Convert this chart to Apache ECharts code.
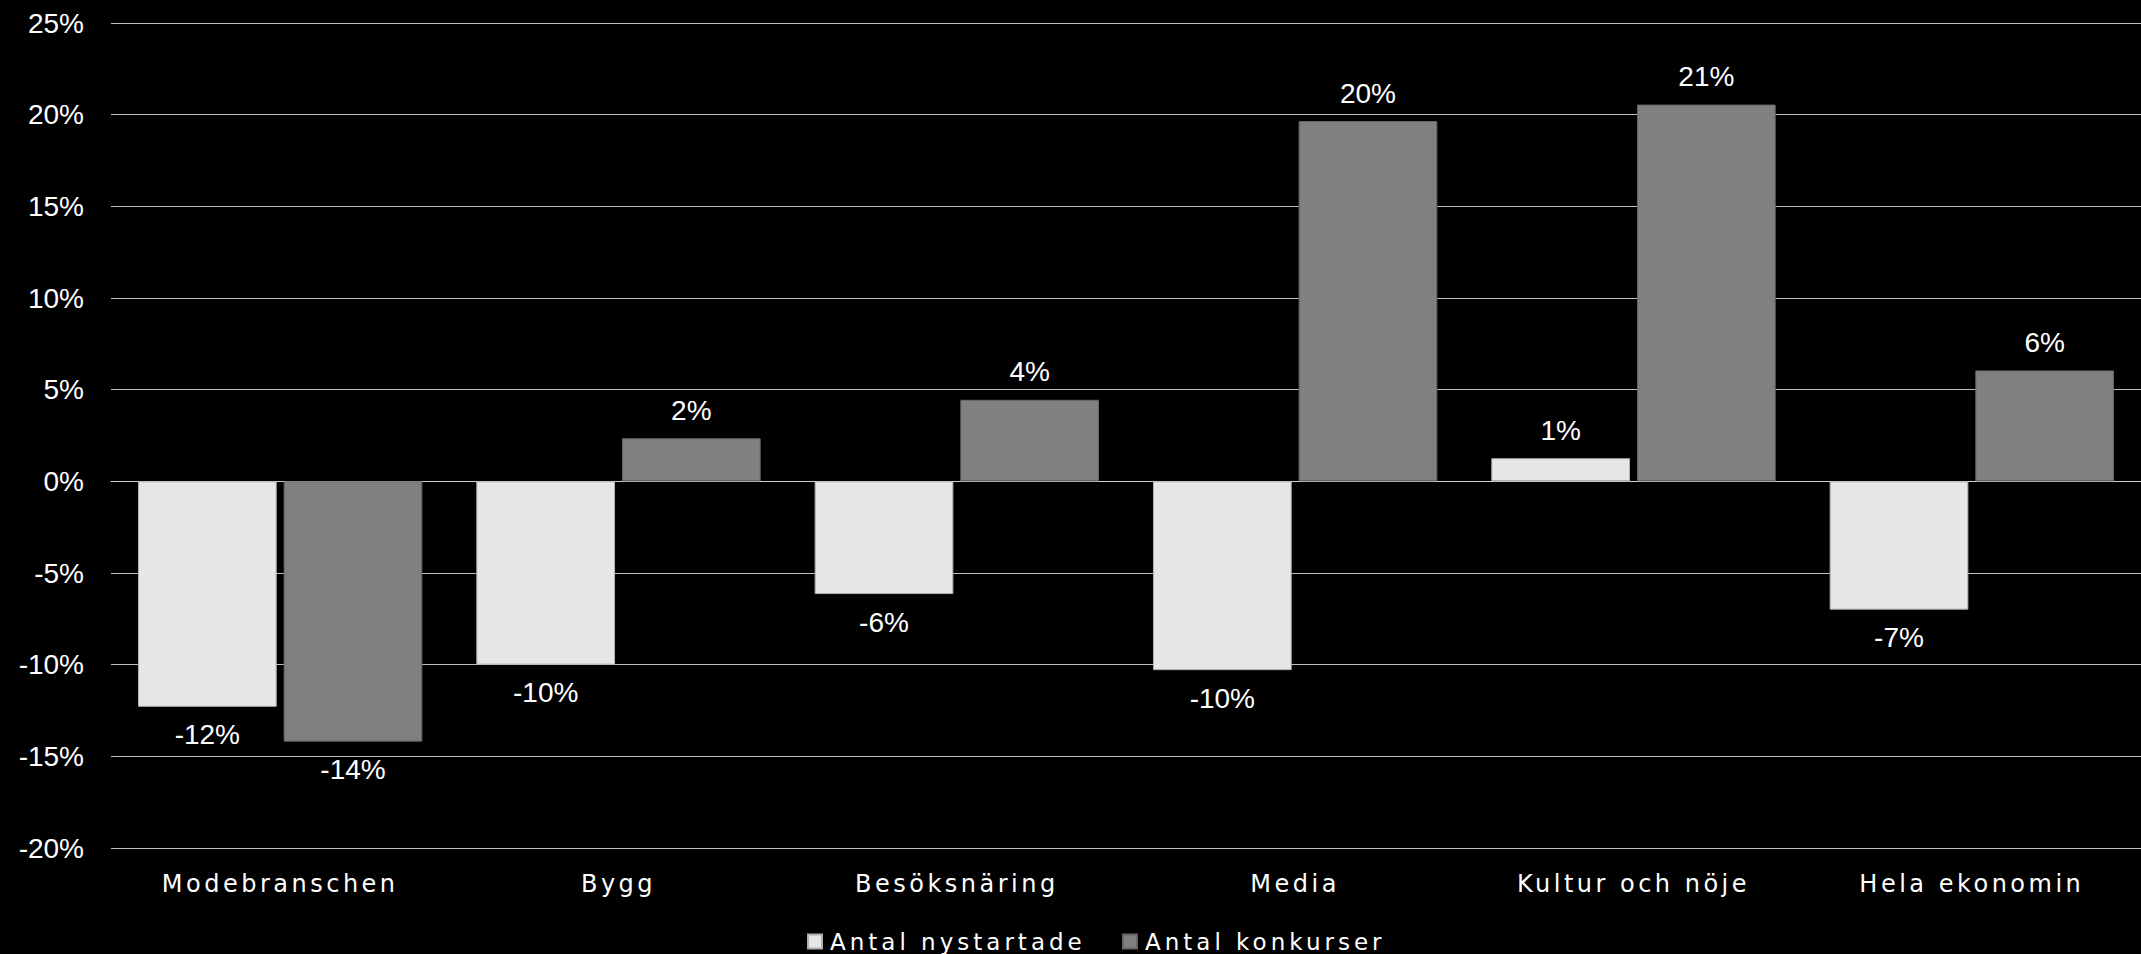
<!DOCTYPE html>
<html>
<head>
<meta charset="utf-8">
<script src="https://cdn.jsdelivr.net/npm/echarts@6/dist/echarts.min.js"></script>
<style>
  html, body { margin: 0; padding: 0; background: #000; }
  #chart { width: 2141px; height: 954px; }
  #chart svg text[style*="DejaVu"], #chart svg text[font-family*="DejaVu"] { letter-spacing: 4px; }
  #chart svg text[style*="DejaVu"][style*="24px"] { letter-spacing: 3.5px; }
</style>
</head>
<body>
<div id="chart"></div>
<script>
const categories = ['Modebranschen', 'Bygg', 'Besöksnäring', 'Media', 'Kultur och nöje', 'Hela ekonomin'];
const nystartade = [-12.3, -10.0, -6.15, -10.3, 1.26, -7.0];
const konkurser = [-14.2, 2.35, 4.45, 19.65, 20.55, 6.05];
const seriesNames = ['Antal nystartade', 'Antal konkurser'];
const yMin = -20, yMax = 25, yStep = 5;

const chart = echarts.init(document.getElementById('chart'), null, { renderer: 'svg' });

const wideFont = 'DejaVu Sans';
const plainFont = 'Liberation Sans';

function labelCfg() {
  return {
    show: true,
    position: 'outside',
    distance: 14,
    color: '#ffffff',
    fontSize: 28,
    fontFamily: plainFont,
    formatter: p => Math.round(p.value) + '%'
  };
}

function legendCfg(name, left) {
  return {
    data: [name],
    left: left,
    top: 930,
    padding: 0,
    icon: 'rect',
    itemWidth: 14,
    itemHeight: 14,
    selectedMode: false,
    textStyle: { color: '#ffffff', fontSize: 23, fontFamily: wideFont, padding: [0, 0, 0, 3] }
  };
}

chart.setOption({
  backgroundColor: '#000000',
  animation: false,
  grid: { left: 111, right: 0, top: 23, bottom: 106, containLabel: false },
  legend: [legendCfg(seriesNames[0], 807), legendCfg(seriesNames[1], 1122)],
  xAxis: {
    type: 'category',
    data: categories,
    axisLine: { show: true, lineStyle: { color: '#cfcfcf', width: 1 } },
    axisTick: { show: false },
    axisLabel: { color: '#ffffff', fontSize: 24, fontFamily: wideFont, margin: 24, interval: 0 }
  },
  yAxis: {
    type: 'value',
    min: yMin,
    max: yMax,
    interval: yStep,
    axisLine: { show: false },
    axisTick: { show: false },
    splitLine: { show: true, lineStyle: { color: '#bfbfbf', width: 1 } },
    axisLabel: { color: '#ffffff', fontSize: 28, fontFamily: plainFont, margin: 27, formatter: '{value}%' }
  },
  series: [
    {
      name: seriesNames[0],
      type: 'bar',
      data: nystartade,
      barWidth: '41%',
      barGap: '5%',
      itemStyle: { color: '#e6e6e6', borderColor: '#b0b0b0', borderWidth: 1 },
      label: labelCfg()
    },
    {
      name: seriesNames[1],
      type: 'bar',
      data: konkurser,
      barWidth: '41%',
      barGap: '5%',
      itemStyle: { color: '#808080', borderColor: '#666666', borderWidth: 1 },
      label: labelCfg()
    }
  ]
});
</script>
</body>
</html>
